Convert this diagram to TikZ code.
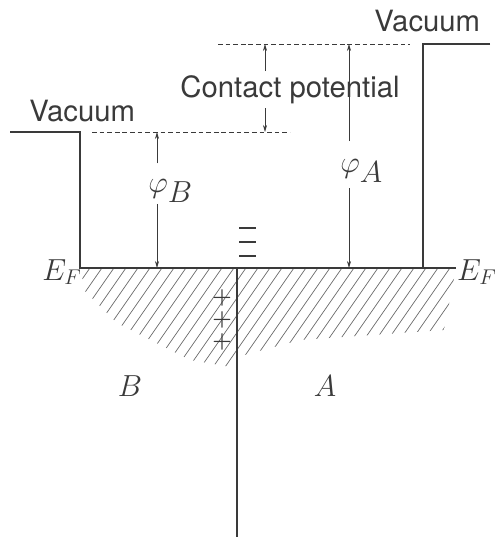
\RequirePackage{fix-cm}
\documentclass[tikz,border=0pt]{standalone}
\usepackage{fontspec}
\setmainfont{TeX Gyre Heros}
\usetikzlibrary{arrows.meta}
\definecolor{ink}{HTML}{3a3a3a}
\definecolor{hatchgray}{HTML}{6a6a6a}

\begin{document}
\begin{tikzpicture}[x=0.03cm,y=-0.03cm,
  level/.style={line width=1.6pt, ink},
  dashlevel/.style={line width=0.7pt, ink, dash pattern=on 4pt off 2.5pt},
  dim/.style={line width=0.7pt, ink, -{Stealth[length=6pt,width=3.5pt]}},
  hatch/.style={line width=0.6pt, hatchgray},
  minusbar/.style={line width=1.8pt, ink},
  word/.style={font=\fontsize{25}{28}\selectfont, ink, inner sep=1pt},
  mathlbl/.style={font=\fontsize{26}{30}\selectfont, ink, inner sep=1pt},
  charge/.style={ink, inner sep=0pt, align=center}]
  \useasboundingbox (0,0) rectangle (494,537);
  % hatched filled states below E_F
  \begin{scope}
    \clip (81,268) -- (237,268) -- (237,368) -- (190,360) -- (117,323) -- (84,290) -- cycle
          (237,268) -- (456,268) -- (444,330) -- (300,340) -- (237,357) -- cycle;
    \foreach \i in {-120,-108,...,480}
      \draw[hatch] (\i,380) -- ++(80,-115);
  \end{scope}
  % levels
  \coordinate (vacB) at (80,132);
  \coordinate (vacA) at (423,44);
  \coordinate (efL) at (80,268);
  \coordinate (efR) at (456,268);
  \coordinate (jn) at (237,268);
  \draw[level] (10,132) -- (vacB) -- (efL) -- (efR);
  \draw[level] (490,44) -- (vacA) -- (vacA |- efR);
  \draw[level] (jn) -- (237,537);
  \draw[dashlevel] (92,132) -- (290,132);
  \draw[dashlevel] (218,44) -- (410,44);
  % labels
  \node[word, anchor=base west] (vacBlbl) at (28,122) {Vacuum};
  \node[word, anchor=base west] (vacAlbl) at (373,32) {Vacuum};
  \node[word, anchor=base] (cp) at (290,98) {Contact potential};
  \node[mathlbl, anchor=base west] (efLlbl) at (41,280) {$E_F$};
  \node[mathlbl, anchor=base west, inner sep=0pt] (efRlbl) at (457,280) {$E_F$};
  \node[mathlbl, anchor=base west] (phiA) at (339,172) {$\varphi_{\lower4pt\hbox{$A$}}$};
  \node[mathlbl, anchor=base west] (phiB) at (147,192) {$\varphi_{\lower5pt\hbox{$B$}}$};
  \node[mathlbl] (regB) at (130,386) {$B$};
  \node[mathlbl] (regA) at (325,386) {$A$};
  % charges at the junction
  \foreach \y in {228,242,256}
    \draw[minusbar] (239,\y) -- (256,\y);
  \node[charge, font=\fontsize{19}{18.7}\selectfont\boldmath] (pluses) at (222,320)
    {$+$\\$+$\\$+$};
  % work functions and contact potential
  \coordinate (cpT) at (265,44);
  \coordinate (cpB) at (265,132);
  \coordinate (aT) at (349,44);
  \coordinate (aB) at (349,268);
  \coordinate (bT) at (157,132);
  \coordinate (bB) at (157,268);
  \draw[dim, shorten <=3pt] (cp.north -| cpT) -- (cpT);
  \draw[dim, shorten <=2pt] (cp.south -| cpB) -- (cpB);
  \draw[dim, shorten <=14pt] (phiA.north -| aT) -- (aT);
  \draw[dim, shorten <=4pt] (phiA.south -| aB) -- (aB);
  \draw[dim, shorten <=12pt] (phiB.north -| bT) -- (bT);
  \draw[dim] (phiB.south -| bB) -- (bB);
\end{tikzpicture}
\end{document}
